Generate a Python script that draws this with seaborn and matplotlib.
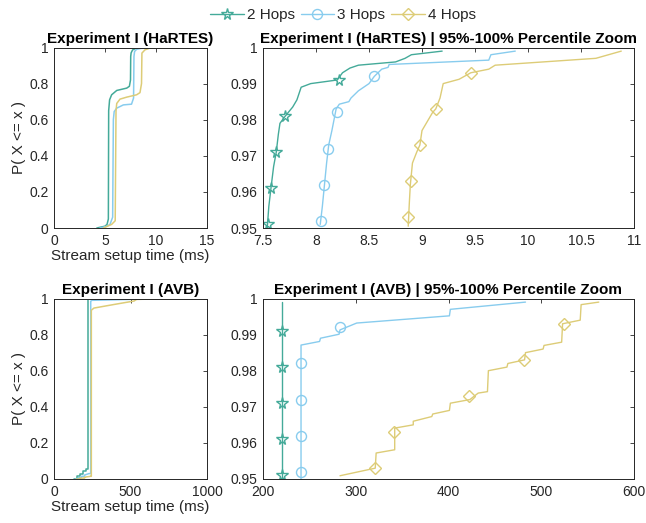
import numpy as np
import pandas as pd
import matplotlib
matplotlib.use("Agg")
import matplotlib.pyplot as plt
import seaborn as sns
from matplotlib.lines import Line2D
from matplotlib.ticker import FuncFormatter

# ---------------- data ----------------
series = ["2 Hops", "3 Hops", "4 Hops"]
colors = ["#44AA99", "#88CCEE", "#DDCC77"]
marker_shapes = ["*", "o", "D"]
marker_sizes = [8.5, 7.2, 5.8]

# HaRTES full CDF
h_full_x2 = [4.2, 5.0, 5.2, 5.33, 5.36, 5.45, 5.65, 6.15, 7.13, 7.39, 7.5, 7.52, 7.56, 7.71, 8.1, 9.4]
h_full_p2 = [0.0, 0.01, 0.02, 0.05, 0.65, 0.71, 0.738, 0.762, 0.775, 0.785, 0.82, 0.95, 0.97, 0.987, 0.997, 1.0]
h_full_x3 = [4.5, 5.2, 5.49, 5.75, 5.82, 5.9, 6.15, 6.8, 7.6, 7.8, 7.84, 7.9, 8.1, 8.76, 10.0]
h_full_p3 = [0.0, 0.01, 0.02, 0.06, 0.6, 0.645, 0.664, 0.682, 0.686, 0.72, 0.95, 0.978, 0.99, 0.998, 1.0]
h_full_x4 = [4.84, 5.65, 6.0, 6.08, 6.15, 6.47, 7.13, 8.1, 8.43, 8.58, 8.62, 8.92, 9.41, 10.9, 12.1]
h_full_p4 = [0.0, 0.02, 0.04, 0.65, 0.69, 0.714, 0.725, 0.738, 0.75, 0.8, 0.969, 0.987, 0.997, 0.999, 1.0]

# HaRTES 95-100% zoom
h_zoom_x2 = [7.54, 7.555, 7.575, 7.60, 7.625, 7.645, 7.66, 7.71, 7.78, 7.82, 7.86, 7.95, 8.2, 8.25, 8.32, 8.4, 8.75, 8.84, 8.9, 9.19]
h_zoom_p2 = [0.950, 0.956, 0.961, 0.967, 0.971, 0.976, 0.979, 0.981, 0.9835, 0.9855, 0.989, 0.990, 0.991, 0.993, 0.9943, 0.9951, 0.996, 0.997, 0.998, 0.999]
h_zoom_x3 = [8.04, 8.06, 8.08, 8.10, 8.12, 8.15, 8.17, 8.19, 8.22, 8.31, 8.33, 8.40, 8.50, 8.55, 8.62, 8.68, 8.69, 9.63, 9.65, 9.88]
h_zoom_p3 = [0.951, 0.956, 0.962, 0.968, 0.973, 0.977, 0.980, 0.983, 0.9843, 0.985, 0.986, 0.988, 0.990, 0.992, 0.994, 0.9945, 0.9953, 0.9965, 0.998, 0.999]
h_zoom_x4 = [8.87, 8.88, 8.89, 8.91, 8.95, 8.98, 9.0, 9.06, 9.10, 9.13, 9.17, 9.2, 9.35, 9.46, 9.63, 9.69, 10.64, 10.88]
h_zoom_p4 = [0.9505, 0.9567, 0.962, 0.968, 0.971, 0.973, 0.977, 0.980, 0.982, 0.983, 0.986, 0.990, 0.9912, 0.993, 0.994, 0.9951, 0.997, 0.999]
h_mark_x2 = [7.547, 7.58, 7.626, 7.71, 8.217]
h_mark_x3 = [8.05, 8.08, 8.11, 8.2, 8.55]
h_mark_x4 = [8.87, 8.9, 8.98, 9.13, 9.46]

# AVB full CDF
a_full_x2 = [131, 150, 150, 170, 170, 190, 190, 210, 210, 219, 219]
a_full_p2 = [0.0, 0.0, 0.015, 0.015, 0.03, 0.03, 0.045, 0.045, 0.058, 0.058, 1.0]
a_full_x3 = [142, 160, 160, 180, 180, 200, 200, 229, 240, 240, 248, 500, 512, 540]
a_full_p3 = [0.0, 0.0, 0.008, 0.008, 0.015, 0.015, 0.022, 0.03, 0.03, 0.985, 0.99, 0.995, 0.999, 1.0]
a_full_x4 = [148, 170, 170, 200, 200, 240, 244, 244, 261, 400, 523, 540, 780]
a_full_p4 = [0.0, 0.0, 0.005, 0.005, 0.01, 0.015, 0.015, 0.935, 0.947, 0.968, 0.986, 0.995, 1.0]

# AVB 95-100% zoom
a_zoom_x2 = [221, 221]
a_zoom_p2 = [0.950, 0.999]
a_zoom_x3 = [241, 241, 261, 262, 282, 283, 301, 401, 402, 483]
a_zoom_p3 = [0.950, 0.9871, 0.9881, 0.989, 0.9901, 0.9913, 0.9932, 0.9952, 0.997, 0.999]
a_zoom_x4 = [283, 321, 322, 342, 342, 362, 362, 382, 383, 401, 402, 423, 432, 442, 443, 463, 464, 482, 483, 502, 503, 522, 523, 542, 543, 562]
a_zoom_p4 = [0.9509, 0.953, 0.9572, 0.9581, 0.9641, 0.965, 0.966, 0.9673, 0.968, 0.969, 0.971, 0.972, 0.9738, 0.9742, 0.980, 0.981, 0.982, 0.983, 0.985, 0.986, 0.987, 0.9879, 0.993, 0.994, 0.9983, 0.999]
a_mark_x2 = [221, 221, 221, 221, 221]
a_mark_x3 = [241, 241, 241, 241, 283]
a_mark_x4 = [321, 341, 422, 481, 524]

mark_p2 = [0.951, 0.961, 0.971, 0.981, 0.991]
mark_p3 = [0.952, 0.962, 0.972, 0.982, 0.992]
mark_p4 = [0.953, 0.963, 0.973, 0.983, 0.993]

# ---------------- style ----------------
sns.set_theme(style="white")
plt.rcParams['font.family'] = ['Liberation Sans', 'DejaVu Sans']
dark = "#262626"

fig = plt.figure(figsize=(6.46, 5.23), dpi=100)
W, H = 646, 523
def pos(l, t, r, b):
    return [l / W, 1 - b / H, (r - l) / W, (b - t) / H]

ax_hf = fig.add_axes(pos(54, 47.5, 207, 228))
ax_hz = fig.add_axes(pos(263, 47.5, 634, 228))
ax_af = fig.add_axes(pos(54, 298.5, 207, 479))
ax_az = fig.add_axes(pos(263, 298.5, 634, 479))

def frame(xs, ps):
    rows = []
    for s, x, p in zip(series, xs, ps):
        for xi, pi in zip(x, p):
            rows.append((s, xi, pi))
    return pd.DataFrame(rows, columns=["hops", "x", "p"])

def draw_lines(ax, xs, ps, lw=1.0):
    df = frame(xs, ps)
    sns.lineplot(data=df, x="x", y="p", hue="hops", palette=colors, hue_order=series,
                 sort=False, estimator=None, lw=lw, legend=False, ax=ax)

def draw_markers(ax, mxs, mps):
    for x, p, c, m, s in zip(mxs, mps, colors, marker_shapes, marker_sizes):
        sns.lineplot(x=x, y=p, color=c, marker=m, linestyle="", mfc="none", mec=c,
                     ms=s, mew=1.0, sort=False, estimator=None, legend=False, ax=ax)

fmt = FuncFormatter(lambda v, p: f"{v:g}")

def style(ax, title):
    ax.set_title(title, fontsize=11, fontweight="bold", color="black", pad=3)
    for sp in ax.spines.values():
        sp.set_visible(True)
        sp.set_color(dark)
        sp.set_linewidth(0.7)
    ax.tick_params(direction="in", top=True, right=True, length=3, width=0.6,
                   colors=dark, labelsize=10, pad=4)
    ax.xaxis.set_major_formatter(fmt)
    ax.yaxis.set_major_formatter(fmt)
    ax.set_xlabel("")
    ax.set_ylabel("")

# HaRTES full
draw_lines(ax_hf, [h_full_x2, h_full_x3, h_full_x4], [h_full_p2, h_full_p3, h_full_p4], lw=1.1)
ax_hf.set_xlim(0, 15); ax_hf.set_ylim(0, 1)
ax_hf.set_xticks([0, 5, 10, 15]); ax_hf.set_yticks([0, 0.2, 0.4, 0.6, 0.8, 1])
style(ax_hf, "Experiment I (HaRTES)")
ax_hf.set_xlabel("Stream setup time (ms)", fontsize=11, color=dark, labelpad=1)
ax_hf.set_ylabel("P( X <= x )", fontsize=11, color=dark, labelpad=2)

# HaRTES zoom
draw_lines(ax_hz, [h_zoom_x2, h_zoom_x3, h_zoom_x4], [h_zoom_p2, h_zoom_p3, h_zoom_p4])
draw_markers(ax_hz, [h_mark_x2, h_mark_x3, h_mark_x4], [mark_p2, mark_p3, mark_p4])
ax_hz.set_xlim(7.5, 11); ax_hz.set_ylim(0.95, 1)
ax_hz.set_xticks([7.5, 8, 8.5, 9, 9.5, 10, 10.5, 11])
ax_hz.set_yticks([0.95, 0.96, 0.97, 0.98, 0.99, 1])
style(ax_hz, "Experiment I (HaRTES) | 95%-100% Percentile Zoom")

# AVB full
draw_lines(ax_af, [a_full_x2, a_full_x3, a_full_x4], [a_full_p2, a_full_p3, a_full_p4], lw=1.1)
ax_af.set_xlim(0, 1000); ax_af.set_ylim(0, 1)
ax_af.set_xticks([0, 500, 1000]); ax_af.set_yticks([0, 0.2, 0.4, 0.6, 0.8, 1])
style(ax_af, "Experiment I (AVB)")
ax_af.set_xlabel("Stream setup time (ms)", fontsize=11, color=dark, labelpad=1)
ax_af.set_ylabel("P( X <= x )", fontsize=11, color=dark, labelpad=2)

# AVB zoom
draw_lines(ax_az, [a_zoom_x2, a_zoom_x3, a_zoom_x4], [a_zoom_p2, a_zoom_p3, a_zoom_p4])
draw_markers(ax_az, [a_mark_x2, a_mark_x3, a_mark_x4], [mark_p2, mark_p3, mark_p4])
ax_az.set_xlim(200, 600); ax_az.set_ylim(0.95, 1)
ax_az.set_xticks([200, 300, 400, 500, 600])
ax_az.set_yticks([0.95, 0.96, 0.97, 0.98, 0.99, 1])
style(ax_az, "Experiment I (AVB) | 95%-100% Percentile Zoom")

handles = [Line2D([0], [0], color=c, lw=1.0, marker=m, mfc="none", mec=c, ms=s, mew=1.0)
           for c, m, s in zip(colors, marker_shapes, marker_sizes)]
fig.legend(handles, series, loc="center", bbox_to_anchor=(343 / W, 1 - 15 / H), ncol=3,
           frameon=False, fontsize=11, handlelength=2.2, handletextpad=0.2,
           columnspacing=0.4, borderaxespad=0)

fig.savefig("out.png", dpi=100)
